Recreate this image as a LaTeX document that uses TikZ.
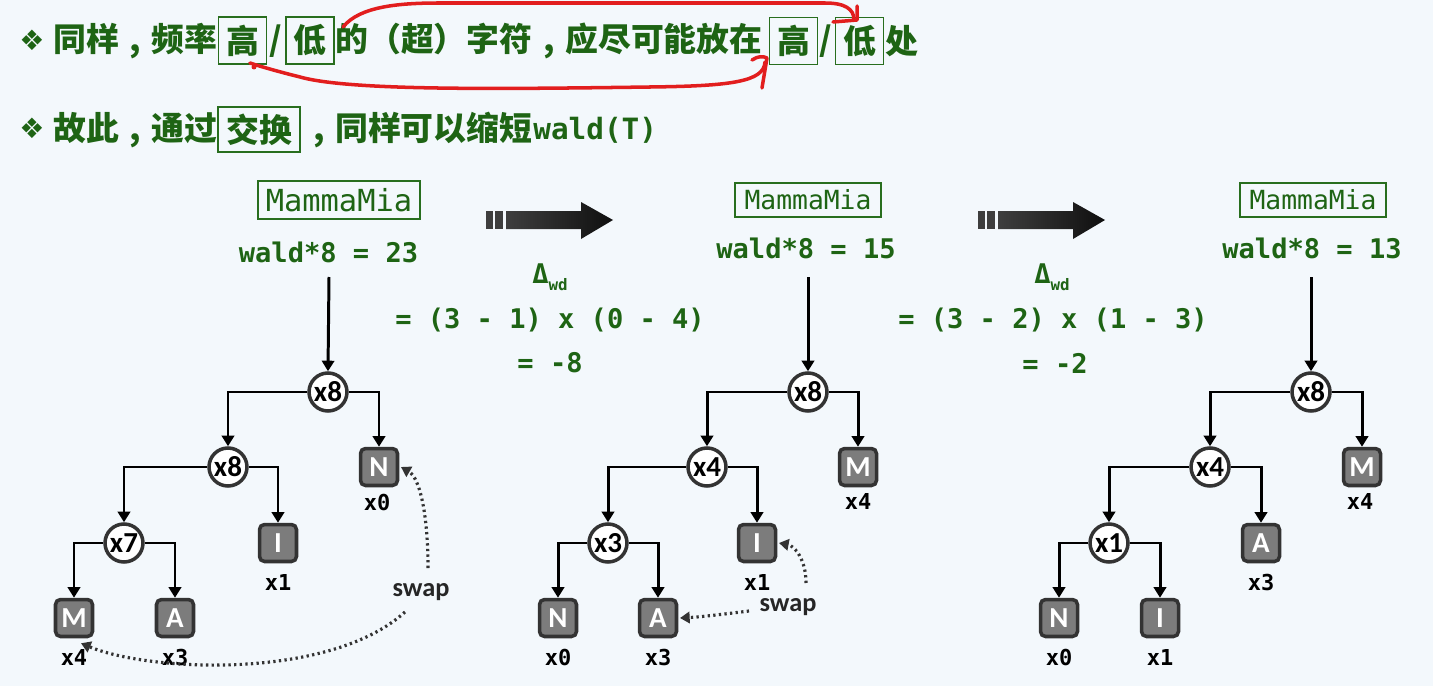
\documentclass[tikz,border=0pt]{standalone}
\usepackage{fontspec}
\setmonofont{DejaVu Sans Mono}
\newfontfamily\cjk{Noto Sans CJK SC}
\newfontfamily\cjktc{Noto Sans CJK TC}
\newfontfamily\carl{Carlito}
\newfontfamily\dvs{DejaVu Sans}
\newcommand{\tcp}[1]{{\cjktc\bfseries #1}}
\newcommand{\cmm}{\makebox[1em][c]{,}}
\usetikzlibrary{arrows.meta,calc}
\definecolor{bg}{RGB}{243,248,252}
\definecolor{gtext}{RGB}{30,100,20}
\definecolor{gbox}{RGB}{40,110,30}
\definecolor{redpen}{RGB}{226,30,30}
\definecolor{dk}{RGB}{51,51,51}
\definecolor{leafgray}{RGB}{124,124,124}
\definecolor{arrl}{RGB}{62,62,62}
\definecolor{arrr}{RGB}{15,15,15}
\tikzset{
  cjktxt/.style={font=\cjk\bfseries\fontsize{18.7}{20}\selectfont, text=gtext, inner sep=0pt, anchor=west},
  cjkbox/.style={font=\cjk\bfseries\fontsize{18.7}{20}\selectfont, text=gtext, draw=gbox, line width=1.1pt, inner sep=0pt, minimum width=0.96cm, minimum height=0.94cm},
  bullet/.style={font=\dvs\fontsize{16}{16}\selectfont, text=gtext, inner sep=0pt},
  mamma/.style={draw=gbox, line width=1.1pt, text=gtext, inner sep=0pt},
  wald/.style={font=\ttfamily\bfseries\fontsize{15.4}{16}\selectfont, text=gtext, inner sep=0pt},
  circ/.style={circle, draw=dk, fill=white, line width=2pt, minimum size=0.76cm, inner sep=0pt, font=\carl\bfseries\fontsize{16.5}{17}\selectfont},
  leaf/.style={rectangle, rounded corners=0.1cm, draw=dk, fill=leafgray, line width=2pt, minimum size=0.74cm, inner sep=0pt, text=white, font=\carl\bfseries\fontsize{16.5}{17}\selectfont},
  lbl/.style={font=\ttfamily\bfseries\fontsize{12.5}{13}\selectfont, inner sep=0pt},
  swapl/.style={font=\carl\bfseries\fontsize{15}{15}\selectfont, text=black!85, inner sep=0pt},
  edge/.style={line width=1.7pt, -{Triangle[width=7pt,length=6pt]}},
  swaparr/.style={dk, line width=1.8pt, dash pattern=on 1.3pt off 1.9pt, -{Triangle[width=6.5pt,length=5.5pt]}},
  redline/.style={redpen, line width=2pt, line cap=round, line join=round},
  barrow/.style={fill=arrl}
}
\begin{document}
\begin{tikzpicture}[x=0.02cm,y=-0.02cm]
\fill[bg] (0,0) rectangle (1433,686);
\useasboundingbox (0,0) rectangle (1433,686);

% ---------- line 1 ----------
\node[bullet] (bul1) at (32,40) {❖};
\node[cjktxt] (t1a) at (53,41) {同样\cmm 频率};
\node[cjkbox] (hi1) at (242.5,40.5) {高};
\node[cjktxt,anchor=center] (sl1) at (276,41) {/};
\node[cjkbox] (lo1) at (310,40.5) {低};
\node[cjktxt] (t1b) at (335,41) {的\tcp{（}超\tcp{）}字符\cmm 应尽可能放在};
\node[cjkbox] (hi2) at (793.5,41) {高};
\node[cjktxt,anchor=center] (sl2) at (826,41) {/};
\node[cjkbox] (lo2) at (859.5,41) {低};
\node[cjktxt] (t1c) at (885,41) {处};

% ---------- line 2 ----------
\node[bullet] (bul2) at (32,128) {❖};
\node[cjktxt] (t2a) at (53,130) {故此\cmm 通过};
\node[cjkbox, minimum width=1.64cm, minimum height=0.9cm] (swp) at (259,129.5) {交换};
\node[cjktxt] (t2b) at (302,130) {\cmm 同样可以缩短};
\node[cjktxt, font=\ttfamily\bfseries\fontsize{16.7}{18}\selectfont] (t2c) at (533,130) {wald(T)};

% ---------- red pen marks ----------
\coordinate (ra) at (343,27);
\coordinate (rb) at (854,20);
\draw[redline] (ra) .. controls (360,6) and (400,3) .. (440,3) -- (825,3) .. controls (845,3) and (854,9) .. (rb);
\draw[redline] (833,22) -- (857,20) -- (857,6);
\coordinate (rc) at (765,62);
\coordinate (rd) at (250,63);
\draw[redline] (rc) .. controls (764,82) and (730,86) .. (650,87) .. controls (500,89) and (350,91) .. (300,77) .. controls (280,72) and (262,67) .. (rd);
\draw[redline] (752,60) .. controls (758,56) and (763,56) .. (767,58) -- (762,88);
\fill[redpen] (254,67) circle (2.5);

% ---------- big arrows ----------
\fill[barrow] (486,211) rectangle (493,229);
\fill[barrow] (495,211) rectangle (503,229);
\shade[left color=arrl, right color=arrr] (506,211) -- (581,211) -- (581,202) -- (613,220) -- (581,239) -- (581,229) -- (506,229) -- cycle;
\fill[barrow] (978,211) rectangle (985,229);
\fill[barrow] (987,211) rectangle (995,229);
\shade[left color=arrl, right color=arrr] (998,211) -- (1073,211) -- (1073,202) -- (1105,220) -- (1073,239) -- (1073,229) -- (998,229) -- cycle;

% ---------- delta texts ----------
\node[wald] (d1) at (550,277) {Δ\raisebox{-0.45ex}{\fontsize{9}{9}\selectfont wd}};
\node[wald] (e1) at (550,320) {= (3 - 1) x (0 - 4)};
\node[wald] (f1) at (550,363) {= -8};
\node[wald] (d2) at (1052,277) {Δ\raisebox{-0.45ex}{\fontsize{9}{9}\selectfont wd}};
\node[wald] (e2) at (1053,320) {= (3 - 2) x (1 - 3)};
\node[wald] (f2) at (1055,363) {= -2};

% ---------- headers ----------
\node[mamma, minimum width=3.24cm, minimum height=0.76cm, font=\ttfamily\fontsize{17.3}{18}\selectfont] (mm1) at (339,200) {MammaMia};
\node[wald] (w1) at (328.5,252) {wald*8 = 23};
\node[mamma, minimum width=2.92cm, minimum height=0.68cm, font=\ttfamily\fontsize{15}{16}\selectfont] (mm2) at (808,200) {MammaMia};
\node[wald] (w2) at (806,248) {wald*8 = 15};
\node[mamma, minimum width=2.92cm, minimum height=0.68cm, font=\ttfamily\fontsize{15}{16}\selectfont] (mm3) at (1313,200) {MammaMia};
\node[wald] (w3) at (1312,248) {wald*8 = 13};

% ---------- tree 1 ----------
\node[circ] (r1) at (328,392) {x8};
\node[circ] (a1) at (228,467) {x8};
\node[circ] (b1) at (124,543) {x7};
\node[leaf] (N1) at (379,467) {N};
\node[leaf] (I1) at (278,543) {I};
\node[leaf] (M1) at (74,618) {M};
\node[leaf] (A1) at (175,618) {A};
\node[lbl] (lN1) at (377,502) {x0};
\node[lbl] (lI1) at (278,582) {x1};
\node[lbl] (lM1) at (74,657) {x4};
\node[lbl] (lA1) at (175,657) {x3};
\coordinate (v1) at (329,277);
\draw[edge] (v1) -- (r1.north);
\draw[edge] (r1.west) -| (a1.north);
\draw[edge] (r1.east) -| (N1.north);
\draw[edge] (a1.west) -| (b1.north);
\draw[edge] (a1.east) -| (I1.north);
\draw[edge] (b1.west) -| (M1.north);
\draw[edge] (b1.east) -| (A1.north);
\node[swapl] (sw1) at (421,592) {swap};
\coordinate (s1a) at (428,568);
\coordinate (s1b) at (405,612);
\draw[swaparr] (s1a) .. controls (428,515) and (420,478) .. ([xshift=1pt]N1.east);
\draw[swaparr] (s1b) .. controls (330,680) and (150,672) .. ($(M1.south)+(7,5)$);

% ---------- tree 2 ----------
\node[circ] (r2) at (808,392) {x8};
\node[circ] (a2) at (707,467) {x4};
\node[circ] (b2) at (608,543) {x3};
\node[leaf] (M2) at (858,467) {M};
\node[leaf] (I2) at (757,543) {I};
\node[leaf] (N2) at (558,618) {N};
\node[leaf] (A2) at (658,618) {A};
\node[lbl] (lM2) at (858,501) {x4};
\node[lbl] (lI2) at (757,582) {x1};
\node[lbl] (lN2) at (558,657) {x0};
\node[lbl] (lA2) at (658,657) {x3};
\coordinate (v2) at (808,277);
\draw[edge] (v2) -- (r2.north);
\draw[edge] (r2.west) -| (a2.north);
\draw[edge] (r2.east) -| (M2.north);
\draw[edge] (a2.west) -| (b2.north);
\draw[edge] (a2.east) -| (I2.north);
\draw[edge] (b2.west) -| (N2.north);
\draw[edge] (b2.east) -| (A2.north);
\node[swapl] (sw2) at (788,607) {swap};
\coordinate (s2a) at (806,583);
\coordinate (s2b) at (749,611);
\draw[swaparr] (s2a) .. controls (806,560) and (795,546) .. ([xshift=1pt]I2.east);
\draw[swaparr] (s2b) .. controls (725,614) and (700,617) .. ([xshift=1pt]A2.east);

% ---------- tree 3 ----------
\node[circ] (r3) at (1311,392) {x8};
\node[circ] (a3) at (1210,467) {x4};
\node[circ] (b3) at (1109,543) {x1};
\node[leaf] (M3) at (1362,467) {M};
\node[leaf] (A3) at (1261,543) {A};
\node[leaf] (N3) at (1059,618) {N};
\node[leaf] (I3) at (1160,618) {I};
\node[lbl] (lM3) at (1360,501) {x4};
\node[lbl] (lA3) at (1261,582) {x3};
\node[lbl] (lN3) at (1059,657) {x0};
\node[lbl] (lI3) at (1160,657) {x1};
\coordinate (v3) at (1311,277);
\draw[edge] (v3) -- (r3.north);
\draw[edge] (r3.west) -| (a3.north);
\draw[edge] (r3.east) -| (M3.north);
\draw[edge] (a3.west) -| (b3.north);
\draw[edge] (a3.east) -| (A3.north);
\draw[edge] (b3.west) -| (N3.north);
\draw[edge] (b3.east) -| (I3.north);
\end{tikzpicture}
\end{document}
